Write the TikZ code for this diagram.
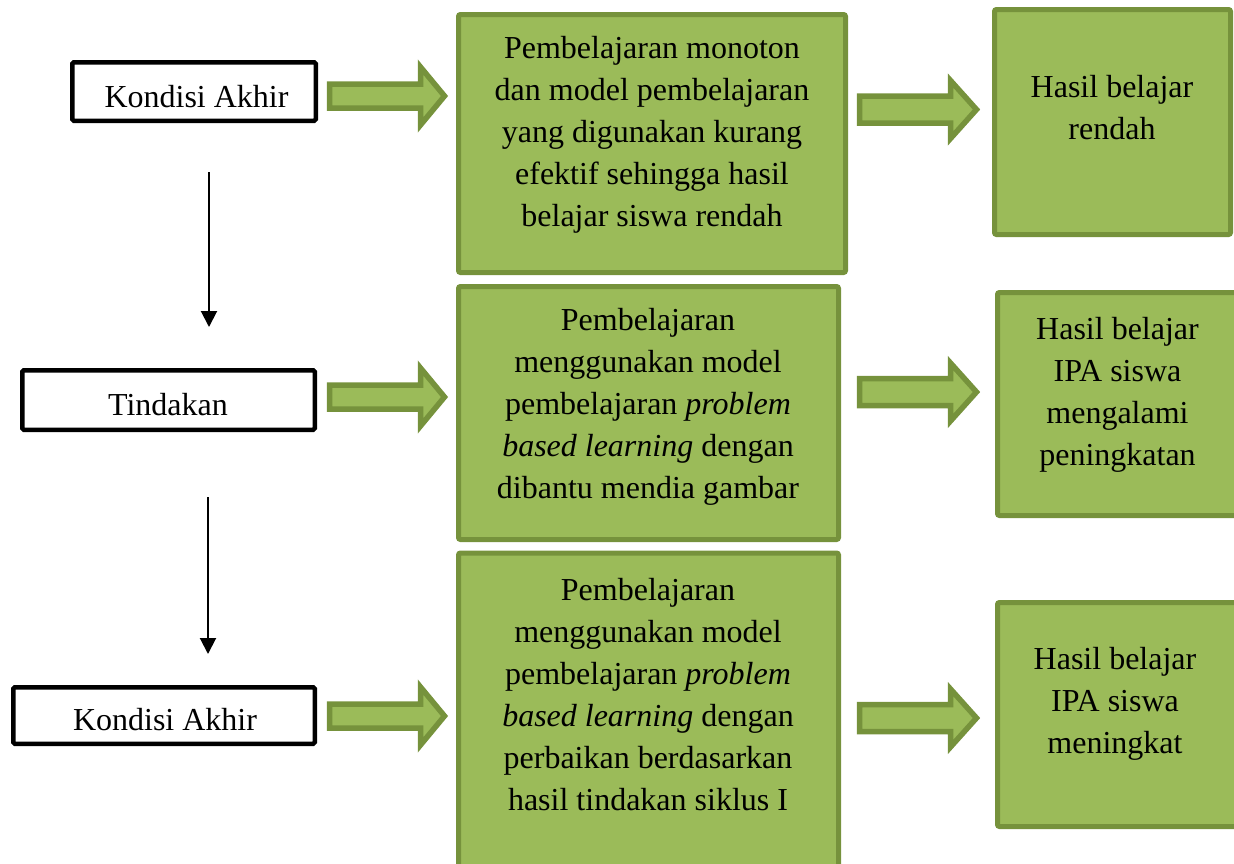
\documentclass[tikz,border=0pt]{standalone}
\usepackage{fontspec}
\setmainfont{Liberation Serif}
\usetikzlibrary{arrows.meta}
\definecolor{olivefill}{HTML}{9BBB59}
\definecolor{olivedark}{HTML}{76923C}
\tikzset{
  blackbox/.style={draw=black, line width=4.5pt, fill=white, rounded corners=1.5pt, inner sep=0pt},
  greenbox/.style={draw=olivedark, line width=5pt, fill=olivefill, rounded corners=2pt, inner sep=0pt},
  txt/.style={align=center, inner sep=0pt, font=\fontsize{32}{42}\selectfont},
  blockarrow/.style={draw=olivedark, fill=olivefill, line width=5.5pt, line join=miter},
  larrow/.pic={\draw[blockarrow] (0,-12) -- (91,-12) -- (91,-29) -- (115,0) -- (91,29) -- (91,12) -- (0,12) -- cycle;},
  rarrow/.pic={\draw[blockarrow] (0,-13.5) -- (91,-13.5) -- (91,-29) -- (117,0) -- (91,29) -- (91,13.5) -- (0,13.5) -- cycle;},
  downarrow/.style={line width=2pt, -{Triangle[width=16pt,length=16pt]}}
}
\begin{document}
\begin{tikzpicture}[x=1pt, y=-1pt]
\useasboundingbox (0,0) rectangle (1234,863);

% left column boxes
\node[blackbox, minimum width=243.5pt, minimum height=58.5pt] (k1) at (194,91.5) {};
\node[blackbox, minimum width=292.5pt, minimum height=59.5pt] (t) at (168.5,400) {};
\node[blackbox, minimum width=301.5pt, minimum height=56.5pt] (k2) at (164,715.5) {};
\node[txt, anchor=base] (k1t) at (196.5,107) {Kondisi Akhir};
\node[txt, anchor=base] (tt) at (168,415) {Tindakan};
\node[txt, anchor=base] (k2t) at (165,730) {Kondisi Akhir};

% middle column boxes
\node[greenbox, minimum width=387pt, minimum height=258pt] (m1) at (652,143.5) {};
\node[greenbox, minimum width=380pt, minimum height=253pt] (m2) at (648.5,413) {};
\node[greenbox, minimum width=380pt, minimum height=332pt] (m3) at (648.5,719) {};
\node[txt] (m1t) at (652,134.5) {Pembelajaran monoton\\dan model pembelajaran\\yang digunakan kurang\\efektif sehingga hasil\\belajar siswa rendah};
\node[txt] (m2t) at (648,407) {Pembelajaran\\menggunakan model\\pembelajaran \textit{problem}\\\textit{based learning} dengan\\dibantu mendia gambar};
\node[txt] (m3t) at (648,695) {Pembelajaran\\menggunakan model\\pembelajaran \textit{problem}\\\textit{based learning} dengan\\perbaikan berdasarkan\\hasil tindakan siklus I};

% right column boxes
\node[greenbox, minimum width=236pt, minimum height=225pt] (r1) at (1112.5,122) {};
\node[greenbox, minimum width=245pt, minimum height=223pt] (r2) at (1120,404) {};
\node[greenbox, minimum width=245pt, minimum height=224pt] (r3) at (1120,714.5) {};
\node[txt] (r1t) at (1112,108) {Hasil belajar\\rendah};
\node[txt] (r2t) at (1117.5,395) {Hasil belajar\\IPA siswa\\mengalami\\peningkatan};
\node[txt] (r3t) at (1115,703.5) {Hasil belajar\\IPA siswa\\meningkat};

% block arrows
\pic at (329.5,96) {larrow};
\pic at (859.5,109.5) {rarrow};
\pic at (329.5,397) {larrow};
\pic at (859.5,392) {rarrow};
\pic at (329.5,716) {larrow};
\pic at (859.5,718) {rarrow};

% vertical arrows
\coordinate (a1s) at (209,172);
\coordinate (a1e) at (209,327);
\coordinate (a2s) at (208,497);
\coordinate (a2e) at (208,654);
\draw[downarrow] (a1s) -- (a1e);
\draw[downarrow] (a2s) -- (a2e);
\end{tikzpicture}
\end{document}
